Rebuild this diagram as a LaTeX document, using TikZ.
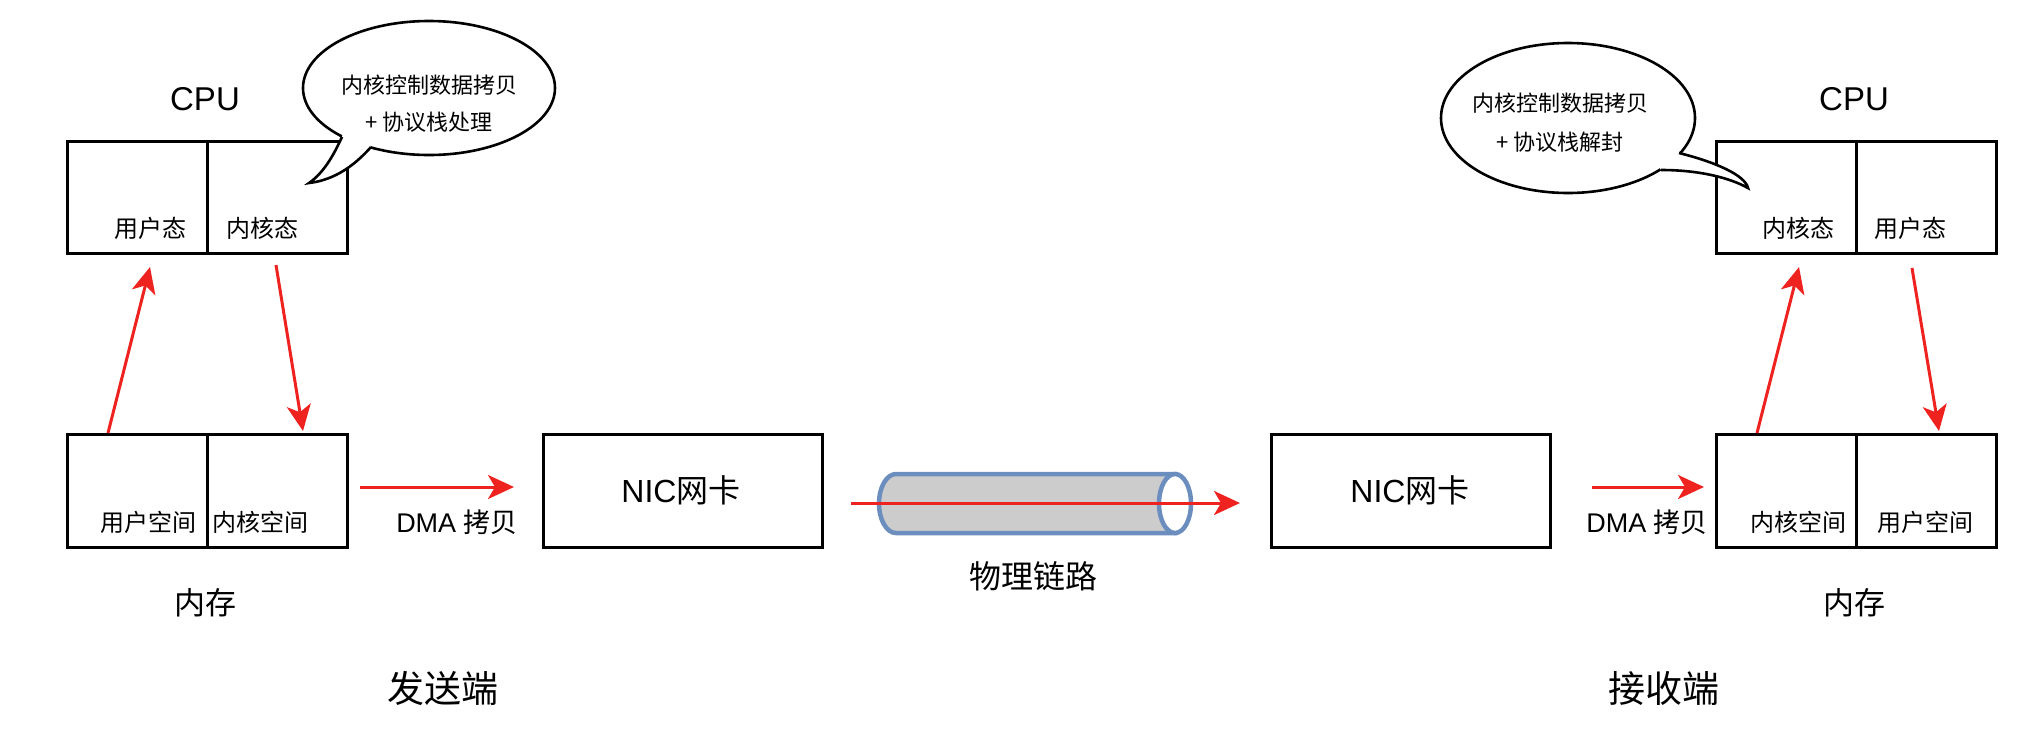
\documentclass[tikz,border=0pt]{standalone}
\usepackage{fontspec}
\setmainfont{Liberation Sans}
\newfontfamily\cjk{Noto Sans CJK SC}
\usetikzlibrary{arrows.meta,shapes.geometric}
\definecolor{arrred}{RGB}{238,34,30}
\definecolor{cylblue}{RGB}{108,142,191}
\definecolor{cylgray}{RGB}{204,204,204}
\begin{document}
\begin{tikzpicture}[x=1pt,y=-1pt,
  cell/.style={draw=black, line width=2.6pt, minimum width=140pt, minimum height=112pt, anchor=north west, inner sep=0pt},
  nicbox/.style={draw=black, line width=2.6pt, minimum width=279pt, minimum height=113pt, anchor=north west, inner sep=0pt},
  lbl/.style={inner sep=0pt, font=\fontsize{24}{28}\selectfont\cjk},
  title/.style={inner sep=0pt, font=\fontsize{32}{36}\selectfont},
  flow/.style={draw=arrred, line width=3pt, -{Stealth[length=26pt,width=24pt,inset=7pt]}},
  bubble/.style={ellipse, draw=black, line width=2.6pt, fill=white, inner sep=0pt},
  bubtext/.style={inner sep=0pt, align=center, font=\fontsize{22}{37}\selectfont\cjk},
  tailline/.style={draw=black, line width=2.6pt}
]
\useasboundingbox (0,0) rectangle (2034,740);

% ---------- sender ----------
\node[title, font=\fontsize{33}{36}\selectfont] (cpuLt) at (205,99) {CPU};
\node[cell] (cpuLu) at (66,140) {};
\node[cell] (cpuLk) at (206,140) {};
\node[lbl] (tcpuLu) at (150,228) {用户态};
\node[lbl] (tcpuLk) at (262,228) {内核态};

\node[cell, minimum height=113pt] (memLu) at (66,433) {};
\node[cell, minimum height=113pt] (memLk) at (206,433) {};
\node[lbl] (tmemLu) at (148,522) {用户空间};
\node[lbl] (tmemLk) at (260,522) {内核空间};
\node[title, font=\fontsize{31}{34}\selectfont\cjk] (memLt) at (205,603) {内存};

\coordinate (upLs) at (108,433);
\coordinate (upLe) at (150,267);
\coordinate (dnLs) at (276,265);
\coordinate (dnLe) at (303,431);
\draw[flow] (upLs) -- (upLe);
\draw[flow] (dnLs) -- (dnLe);

\node[nicbox] (nicL) at (542,433) {};
\node[title] (tnicL) at (681,490) {NIC{\cjk 网卡}};
\coordinate (dmaLs) at (360,487);
\coordinate (dmaLe) at (514,487);
\draw[flow] (dmaLs) -- (dmaLe);
\node[inner sep=0pt, font=\fontsize{27}{30}\selectfont] (dmaLt) at (457,522) {DMA {\cjk 拷贝}};

% bubble left
\node[bubble, minimum width=252pt, minimum height=134pt] (bubL) at (429,88) {};
\fill[white] (342,137) .. controls (335,152) and (325,172) .. (309,183) .. controls (335,180) and (355,165) .. (371,147) -- (360,120) -- (345,120) -- cycle;
\draw[tailline] (342,137) .. controls (335,152) and (325,172) .. (309,183) .. controls (335,180) and (355,165) .. (371,147);
\node[bubtext] (tbubL) at (429,103.5) {内核控制数据拷贝\\+ 协议栈处理};

\node[title, font=\fontsize{37}{40}\selectfont\cjk] (sendT) at (443,688) {发送端};

% ---------- link ----------
\draw[draw=cylblue, fill=cylgray, line width=4.5pt] (896,474) -- (1175,474) -- (1175,533) -- (896,533) .. controls (886.6,533) and (879,519.8) .. (879,503.5) .. controls (879,487.2) and (886.6,474) .. (896,474) -- cycle;
\draw[draw=cylblue, fill=white, line width=4.5pt] (1175,503.5) ellipse [x radius=16, y radius=29.5];
\coordinate (linkS) at (851,503);
\coordinate (linkE) at (1240,503);
\draw[flow] (linkS) -- (linkE);
\node[title, font=\fontsize{32}{36}\selectfont\cjk] (linkT) at (1033,576) {物理链路};

% ---------- receiver ----------
\node[nicbox] (nicR) at (1270,433) {};
\node[title] (tnicR) at (1410,490) {NIC{\cjk 网卡}};
\coordinate (dmaRs) at (1592,487);
\coordinate (dmaRe) at (1704,487);
\draw[flow] (dmaRs) -- (dmaRe);
\node[inner sep=0pt, font=\fontsize{27}{30}\selectfont] (dmaRt) at (1647,522) {DMA {\cjk 拷贝}};

\node[cell, minimum height=113pt] (memRk) at (1715,433) {};
\node[cell, minimum height=113pt] (memRu) at (1855,433) {};
\node[lbl] (tmemRk) at (1798,522) {内核空间};
\node[lbl] (tmemRu) at (1925,522) {用户空间};
\node[title, font=\fontsize{31}{34}\selectfont\cjk] (memRt) at (1854,603) {内存};

\node[title, font=\fontsize{33}{36}\selectfont] (cpuRt) at (1854,99) {CPU};
\node[cell] (cpuRk) at (1715,140) {};
\node[cell] (cpuRu) at (1855,140) {};
\node[lbl] (tcpuRk) at (1798,228) {内核态};
\node[lbl] (tcpuRu) at (1910,228) {用户态};

\coordinate (upRs) at (1757,433);
\coordinate (upRe) at (1799,267);
\coordinate (dnRs) at (1912,268);
\coordinate (dnRe) at (1939,431);
\draw[flow] (upRs) -- (upRe);
\draw[flow] (dnRs) -- (dnRe);

% bubble right
\node[bubble, minimum width=254pt, minimum height=150pt] (bubR) at (1568,118) {};
\fill[white] (1679,153) .. controls (1715,162) and (1745,175) .. (1748,188) .. controls (1730,178) and (1700,170) .. (1661,170) -- (1650,150) -- (1665,140) -- cycle;
\draw[tailline] (1679,153) .. controls (1715,162) and (1745,175) .. (1748,188) .. controls (1730,178) and (1700,170) .. (1661,170);
\node[bubtext, font=\fontsize{22}{39}\selectfont\cjk] (tbubR) at (1560,122.5) {内核控制数据拷贝\\+ 协议栈解封};

\node[title, font=\fontsize{37}{40}\selectfont\cjk] (recvT) at (1664,688) {接收端};
\end{tikzpicture}
\end{document}
